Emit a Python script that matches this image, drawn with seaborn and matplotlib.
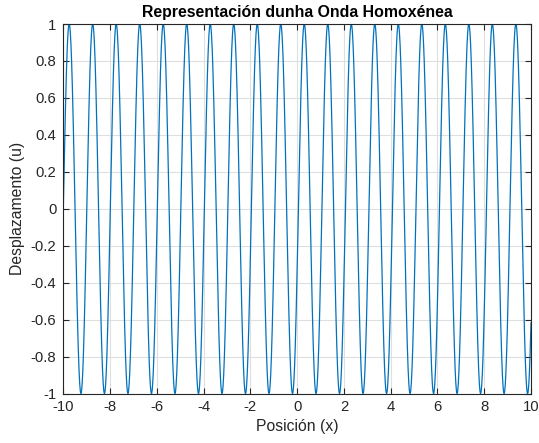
import numpy as np
import pandas as pd
import matplotlib
matplotlib.use("Agg")
import matplotlib.pyplot as plt
import seaborn as sns

# Wave parameters: u(x) = A * sin(k * (x - x_start))
amplitude = 1.0
wavenumber = 6.25
x_start, x_end = -10.0, 10.0

x_ticks = [-10, -8, -6, -4, -2, 0, 2, 4, 6, 8, 10]
y_ticks = [-1, -0.8, -0.6, -0.4, -0.2, 0, 0.2, 0.4, 0.6, 0.8, 1]

x = np.linspace(x_start, x_end, 4001)
u = amplitude * np.sin(wavenumber * (x - x_start))
df = pd.DataFrame({"x": x, "u": u})

sns.set_theme(style="white")
plt.rcParams["font.family"] = ["Liberation Sans", "DejaVu Sans"]

fig = plt.figure(figsize=(5.39, 4.43), dpi=100)
ax = fig.add_axes([63.3 / 539, 1 - 393.5 / 443, (531 - 63.3) / 539, (393.5 - 24) / 443])

sns.lineplot(data=df, x="x", y="u", ax=ax, color="#0072BD", linewidth=0.9)

ax.set_xlim(x_start, x_end)
ax.set_ylim(-1, 1)
ax.set_xticks(x_ticks)
ax.set_xticklabels([str(v) for v in x_ticks])
ax.set_yticks(y_ticks)
ax.set_yticklabels([("%g" % v) for v in y_ticks])

ax.grid(True, color="#dfdfdf", linewidth=0.8)
ax.set_axisbelow(True)
for s in ax.spines.values():
    s.set_color("#262626")
    s.set_linewidth(0.8)
ax.tick_params(direction="in", length=4, width=0.8, color="#262626",
               labelsize=10.7, labelcolor="#262626",
               top=True, right=True, bottom=True, left=True, pad=5)

ax.set_xlabel("Posición (x)", fontsize=11.3, color="#262626", labelpad=3)
ax.set_ylabel("Desplazamento (u)", fontsize=11.3, color="#262626", labelpad=4)
ax.set_title("Representación dunha Onda Homoxénea", fontsize=11.4,
             fontweight="bold", color="black", pad=5)

fig.savefig("out.png", dpi=100)
